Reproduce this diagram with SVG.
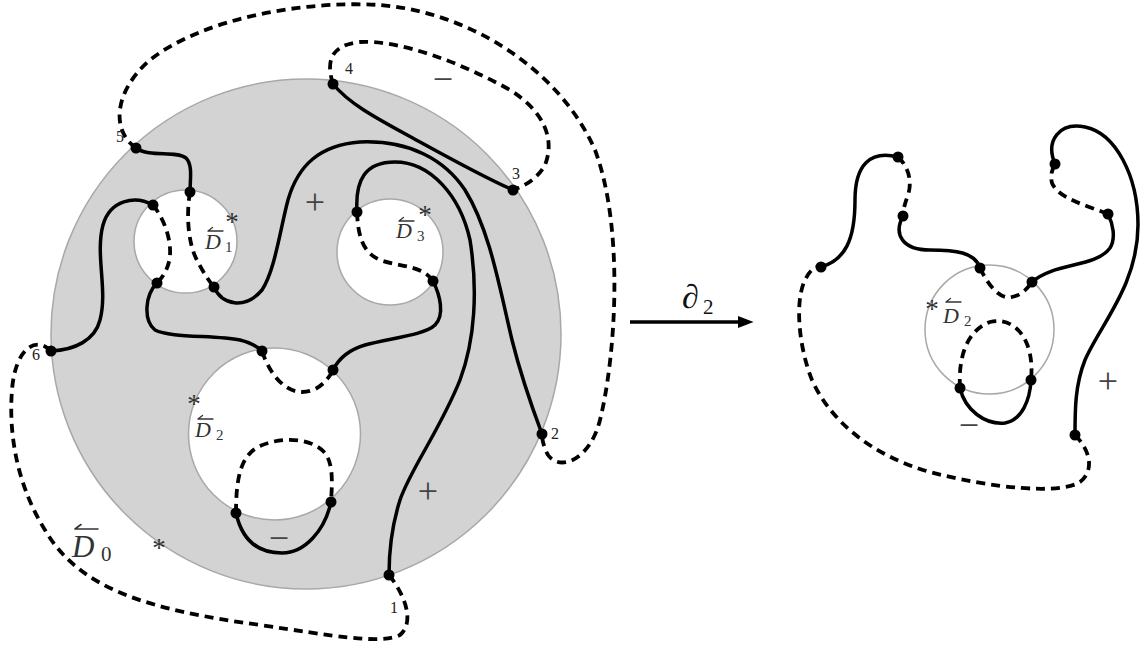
<svg xmlns="http://www.w3.org/2000/svg" width="1144" height="652" viewBox="0 0 1144 652">
<defs>
<style>
.disk{fill:#d3d3d3;stroke:#a8a8a8;stroke-width:1.5}
.hole{fill:#fff;stroke:#a8a8a8;stroke-width:1.5}
.s{fill:none;stroke:#000;stroke-width:3.5;stroke-linecap:round}
.d{fill:none;stroke:#000;stroke-width:3.8;stroke-dasharray:9 6}
.dot{fill:#000}
.num{font-family:"Liberation Serif",serif;font-size:16px;fill:#222}
.pm{font-family:"Liberation Serif",serif;font-size:36px;fill:#444;text-anchor:middle}
.D{font-family:"Liberation Serif",serif;font-style:italic;font-size:22px;fill:#333}
.sub{font-family:"Liberation Serif",serif;font-size:15px;fill:#333}
.acc{fill:none;stroke:#333;stroke-width:1.3;stroke-linecap:round}
.ast{font-family:"Liberation Serif",serif;font-size:27px;fill:#333;text-anchor:middle}
</style>
<marker id="ah" viewBox="0 0 10 10" refX="2" refY="5" markerWidth="4.5" markerHeight="3.4" orient="auto" markerUnits="strokeWidth" preserveAspectRatio="none">
<path d="M0,0 L10,5 L0,10 Z" fill="#000"/>
</marker>
</defs>
<rect width="1144" height="652" fill="#fff"/>

<g id="left-surface">
<circle class="disk" cx="306" cy="334" r="255"/>
<circle class="hole" cx="185.5" cy="241.5" r="51.5"/>
<circle class="hole" cx="390" cy="252" r="53"/>
<circle class="hole" cx="274.5" cy="434" r="86"/>
</g>

<g id="connectors-left">
<path class="d" d="M136,148 C110,130 115,90 150,60 C200,20 300,0 380,5 C470,12 560,70 595,150 C625,230 615,360 600,420 C590,460 560,472 548,455 C544,448 542,440 542,434"/>
<path class="d" d="M333,84 C326,62 330,45 360,42 C400,40 460,62 510,90 C545,112 555,140 545,165 C538,178 525,186 513,190"/>
<path class="d" d="M51,351 C35,335 15,350 12,390 C8,440 20,490 45,530 C80,590 150,610 260,625 C330,635 380,645 400,635 C415,622 405,595 389,575"/>
<path class="d" d="M190,192 C186,215 188,245 198,262 C204,274 210,282 214,287"/>
<path class="d" d="M153,205 C165,220 171,240 170,255 C169,268 163,277 157,283"/>
<path class="d" d="M357,212 C358,235 362,252 380,260 C400,267 422,265 433,281"/>
<path class="d" d="M262,351 C270,375 285,392 302,392 C318,392 328,380 333,370"/>
<path class="d" d="M236,513 C236,480 240,455 260,446 C280,437 310,437 324,452 C334,463 332,485 331,502"/>
<path class="s" d="M136,148 C150,158 175,150 186,158 C193,165 190,180 190,192"/>
<path class="s" d="M153,205 C135,195 110,200 103,225 C95,255 108,290 100,320 C95,340 75,350 51,351"/>
<path class="s" d="M157,283 C145,295 143,320 155,330 C170,338 215,335 240,340 C252,343 258,347 262,351"/>
<path class="s" d="M214,287 C222,305 245,310 262,290 C275,270 280,230 288,200 C298,165 320,145 360,142 C410,140 445,160 465,190 C490,230 500,290 512,340 C522,380 533,410 542,434"/>
<path class="s" d="M357,212 C355,180 365,162 395,162 C430,162 460,195 470,240 C478,290 475,340 460,380 C440,430 410,470 400,500 C392,525 389,550 389,575"/>
<path class="s" d="M433,281 C440,295 445,315 435,325 C425,335 390,338 365,345 C348,350 338,360 333,370"/>
<path class="s" d="M333,84 C350,105 380,120 420,142 C460,164 490,180 513,190"/>
<path class="s" d="M236,513 C242,540 258,553 282,553 C305,553 325,530 331,502"/>
<line x1="630" y1="322" x2="741" y2="322" stroke="#000" stroke-width="3.5" marker-end="url(#ah)"/>
</g>

<g id="connectors-right">
<path class="s" d="M821,267 C845,260 855,240 855,200 C855,165 870,150 898,157"/>
<path class="d" d="M898,157 C907,165 913,180 908,195 C905,203 903,210 903,216"/>
<path class="s" d="M903,216 C893,235 903,250 930,250 C955,250 975,252 980,268"/>
<path class="d" d="M980,268 C988,285 1000,300 1012,297 C1022,295 1028,288 1032,282"/>
<path class="s" d="M1032,282 C1055,262 1095,268 1110,248 C1116,238 1113,224 1108,214"/>
<path class="d" d="M1108,214 C1085,205 1058,198 1052,183 C1050,175 1052,170 1055,164"/>
<path class="s" d="M1055,164 C1045,140 1060,122 1085,127 C1115,133 1138,175 1138,225 C1138,285 1100,325 1085,360 C1075,385 1075,410 1075,435"/>
<path class="d" d="M1075,435 C1090,450 1095,470 1080,482 C1060,495 990,488 930,472 C870,455 830,420 812,380 C798,345 795,300 805,280 C810,270 815,266 821,267"/>
<path class="d" d="M960,388 C958,355 968,330 990,322 C1015,316 1035,340 1031,380"/>
<path class="s" d="M960,388 C965,410 985,425 1005,423 C1022,420 1030,400 1031,380"/>
</g>

<g id="right-disk">
<circle cx="989.5" cy="329.5" r="64.5" fill="none" stroke="#a8a8a8" stroke-width="1.5"/>
</g>

<g id="dots-left">
<circle class="dot" cx="136" cy="148" r="5.5"/>
<circle class="dot" cx="333" cy="84" r="5.5"/>
<circle class="dot" cx="513" cy="190" r="5.5"/>
<circle class="dot" cx="542" cy="434" r="5.5"/>
<circle class="dot" cx="389" cy="575" r="5.5"/>
<circle class="dot" cx="51" cy="351" r="5.5"/>
<circle class="dot" cx="190" cy="192" r="5.5"/>
<circle class="dot" cx="153" cy="205" r="5.5"/>
<circle class="dot" cx="157" cy="283" r="5.5"/>
<circle class="dot" cx="214" cy="287" r="5.5"/>
<circle class="dot" cx="357" cy="212" r="5.5"/>
<circle class="dot" cx="433" cy="281" r="5.5"/>
<circle class="dot" cx="262" cy="351" r="5.5"/>
<circle class="dot" cx="333" cy="370" r="5.5"/>
<circle class="dot" cx="236" cy="513" r="5.5"/>
<circle class="dot" cx="331" cy="502" r="5.5"/>
</g>

<g id="dots-right">
<circle class="dot" cx="898" cy="157" r="5.5"/>
<circle class="dot" cx="903" cy="216" r="5.5"/>
<circle class="dot" cx="821" cy="267" r="5.5"/>
<circle class="dot" cx="980" cy="268" r="5.5"/>
<circle class="dot" cx="1032" cy="282" r="5.5"/>
<circle class="dot" cx="1055" cy="164" r="5.5"/>
<circle class="dot" cx="1108" cy="214" r="5.5"/>
<circle class="dot" cx="960" cy="388" r="5.5"/>
<circle class="dot" cx="1031" cy="380" r="5.5"/>
<circle class="dot" cx="1075" cy="435" r="5.5"/>
</g>

<g id="labels-left">
<text class="num" x="390" y="613">1</text>
<text class="num" x="551" y="439">2</text>
<text class="num" x="512" y="179">3</text>
<text class="num" x="345" y="74">4</text>
<text class="num" x="116" y="142">5</text>
<text class="num" x="32" y="360">6</text>
<text class="pm" x="443" y="91">−</text>
<text class="pm" x="315" y="214">+</text>
<text class="pm" x="428" y="503">+</text>
<text class="pm" x="279" y="550">−</text>
</g>

<g id="label-D1">
<text class="ast" x="232" y="231">*</text>
<path class="acc" d="M208,231 H223 M208,231 l4.5,-3.5"/>
<text class="D" x="205" y="249">D</text>
<text class="sub" x="225" y="252">1</text>
</g>
<g id="label-D3">
<text class="ast" x="425" y="224">*</text>
<path class="acc" d="M399,221 H414 M399,221 l4.5,-3.5"/>
<text class="D" x="396" y="238">D</text>
<text class="sub" x="417" y="241">3</text>
</g>
<g id="label-D2">
<text class="ast" x="194" y="413">*</text>
<path class="acc" d="M198,419 H213 M198,419 l4.5,-3.5"/>
<text class="D" x="195" y="437">D</text>
<text class="sub" x="216" y="440">2</text>
</g>
<g id="label-D0">
<text class="ast" x="159" y="557">*</text>
<path class="acc" d="M75,529 H98 M75,529 l6,-4.5" style="stroke-width:1.6"/>
<text class="D" x="72" y="557" style="font-size:31px">D</text>
<text class="sub" x="101" y="561" style="font-size:21px">0</text>
</g>
<g id="label-boundary">
<text x="682" y="308" style="font-family:'Liberation Serif',serif;font-style:italic;font-size:34px;fill:#111">∂</text>
<text x="703" y="314" style="font-family:'Liberation Serif',serif;font-size:21px;fill:#111">2</text>
</g>
<g id="labels-right">
<text class="ast" x="932" y="318">*</text>
<path class="acc" d="M946,302 H961 M946,302 l4.5,-3.5"/>
<text class="D" x="943" y="323">D</text>
<text class="sub" x="964" y="326">2</text>
<text class="pm" x="1108" y="393">+</text>
<text class="pm" x="969" y="437">−</text>
</g>
</svg>
